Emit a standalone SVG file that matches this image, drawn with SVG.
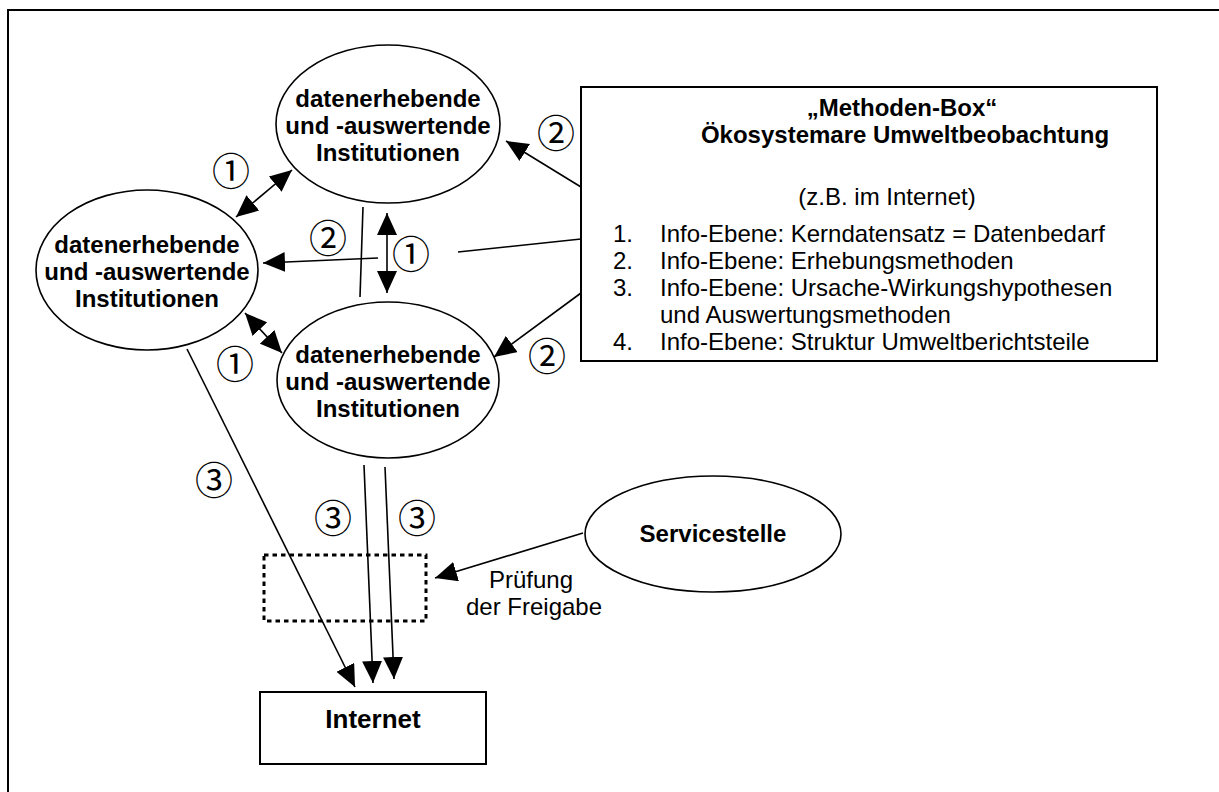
<svg xmlns="http://www.w3.org/2000/svg" width="1219" height="792" viewBox="0 0 1219 792">
  <style>
    .frame { fill: none; stroke: #000; stroke-width: 2; }
    .node { fill: #fff; stroke: #000; stroke-width: 1.6; }
    .box { fill: #fff; stroke: #000; stroke-width: 2; }
    .dotted { fill: none; stroke: #000; stroke-width: 3; stroke-dasharray: 4.5 4; }
    .conn { fill: none; stroke: #000; stroke-width: 1.6; }
    .arrow { marker-end: url(#head); }
    .both { marker-start: url(#head); marker-end: url(#head); }
    .bold { font-family: "Liberation Sans", Arial, sans-serif; font-weight: bold; font-size: 24px; fill: #000; text-anchor: middle; }
    .reg { font-family: "Liberation Sans", Arial, sans-serif; font-size: 24px; fill: #000; }
    .mid { text-anchor: middle; }
    .num { font-family: "Noto Sans CJK JP", "DejaVu Sans", sans-serif; font-size: 38px; fill: #000; text-anchor: middle; dominant-baseline: central; }
  </style>
  <defs>
    <marker id="head" viewBox="0 0 22 20" refX="22" refY="10" markerWidth="22" markerHeight="20" markerUnits="userSpaceOnUse" orient="auto-start-reverse">
      <path d="M0,0 L22,10 L0,20 z" fill="#000"/>
    </marker>
  </defs>

  <rect width="1219" height="792" fill="#fff"/>
  <path class="frame" d="M8,792 V10 H1219"/>

  <!-- institutions -->
  <g id="inst-top">
    <ellipse class="node" cx="388" cy="124" rx="112" ry="79"/>
    <text class="bold" x="388" y="107">datenerhebende</text>
    <text class="bold" x="388" y="134">und -auswertende</text>
    <text class="bold" x="388" y="161">Institutionen</text>
  </g>
  <g id="inst-left">
    <ellipse class="node" cx="147" cy="270" rx="111" ry="80"/>
    <text class="bold" x="147" y="253">datenerhebende</text>
    <text class="bold" x="147" y="280">und -auswertende</text>
    <text class="bold" x="147" y="307">Institutionen</text>
  </g>
  <g id="inst-bottom">
    <ellipse class="node" cx="388" cy="380" rx="111" ry="78"/>
    <text class="bold" x="388" y="363">datenerhebende</text>
    <text class="bold" x="388" y="390">und -auswertende</text>
    <text class="bold" x="388" y="417">Institutionen</text>
  </g>

  <!-- method box -->
  <g id="methoden-box">
    <rect class="box" x="581" y="87" width="576" height="274"/>
    <text class="bold" x="902" y="116">„Methoden-Box“</text>
    <text class="bold" x="905" y="143">Ökosystemare Umweltbeobachtung</text>
    <text class="reg mid" x="887" y="205">(z.B. im Internet)</text>
    <text class="reg" x="613" y="242">1.</text>
    <text class="reg" x="660" y="242">Info-Ebene: Kerndatensatz = Datenbedarf</text>
    <text class="reg" x="613" y="269">2.</text>
    <text class="reg" x="660" y="269">Info-Ebene: Erhebungsmethoden</text>
    <text class="reg" x="613" y="296">3.</text>
    <text class="reg" x="660" y="296">Info-Ebene: Ursache-Wirkungshypothesen</text>
    <text class="reg" x="660" y="323">und Auswertungsmethoden</text>
    <text class="reg" x="613" y="350">4.</text>
    <text class="reg" x="660" y="350">Info-Ebene: Struktur Umweltberichtsteile</text>
  </g>

  <g id="servicestelle">
    <ellipse class="node" cx="713" cy="534" rx="128" ry="58"/>
    <text class="bold" x="713" y="542">Servicestelle</text>
  </g>

  <g id="freigabe">
    <rect class="dotted" x="264" y="555" width="162" height="66"/>
  </g>

  <g id="internet">
    <rect class="box" x="260" y="692" width="226" height="72"/>
    <text class="bold" x="373" y="728" style="font-size:26px">Internet</text>
  </g>

  <!-- connectors -->
  <g id="connectors">
    <line class="conn both" x1="236" y1="217" x2="292" y2="170"/>
    <line class="conn both" x1="245" y1="313" x2="282" y2="353"/>
    <line class="conn both" x1="387" y1="213" x2="387" y2="293"/>
    <line class="conn arrow" x1="378" y1="258" x2="263" y2="263"/>
    <line class="conn" x1="363" y1="207" x2="360" y2="297"/>
    <line class="conn" x1="458" y1="252" x2="581" y2="239"/>
    <line class="conn arrow" x1="581" y1="187" x2="506" y2="141"/>
    <line class="conn arrow" x1="581" y1="293" x2="494" y2="357"/>
    <line class="conn arrow" x1="187" y1="349" x2="355" y2="687"/>
    <line class="conn arrow" x1="364" y1="465" x2="373" y2="683"/>
    <line class="conn arrow" x1="385" y1="467" x2="394" y2="679"/>
    <line class="conn arrow" x1="583" y1="533" x2="435" y2="578"/>
  </g>

  <!-- step labels -->
  <g id="labels">
    <text class="num" x="231" y="168">①</text>
    <text class="num" x="328" y="235">②</text>
    <text class="num" x="411" y="251">①</text>
    <text class="num" x="235" y="361">①</text>
    <text class="num" x="556" y="130">②</text>
    <text class="num" x="547" y="353">②</text>
    <text class="num" x="214" y="477">③</text>
    <text class="num" x="333" y="515">③</text>
    <text class="num" x="417" y="515">③</text>
    <text class="reg mid" x="531" y="588">Prüfung</text>
    <text class="reg mid" x="534" y="615">der Freigabe</text>
  </g>
</svg>
